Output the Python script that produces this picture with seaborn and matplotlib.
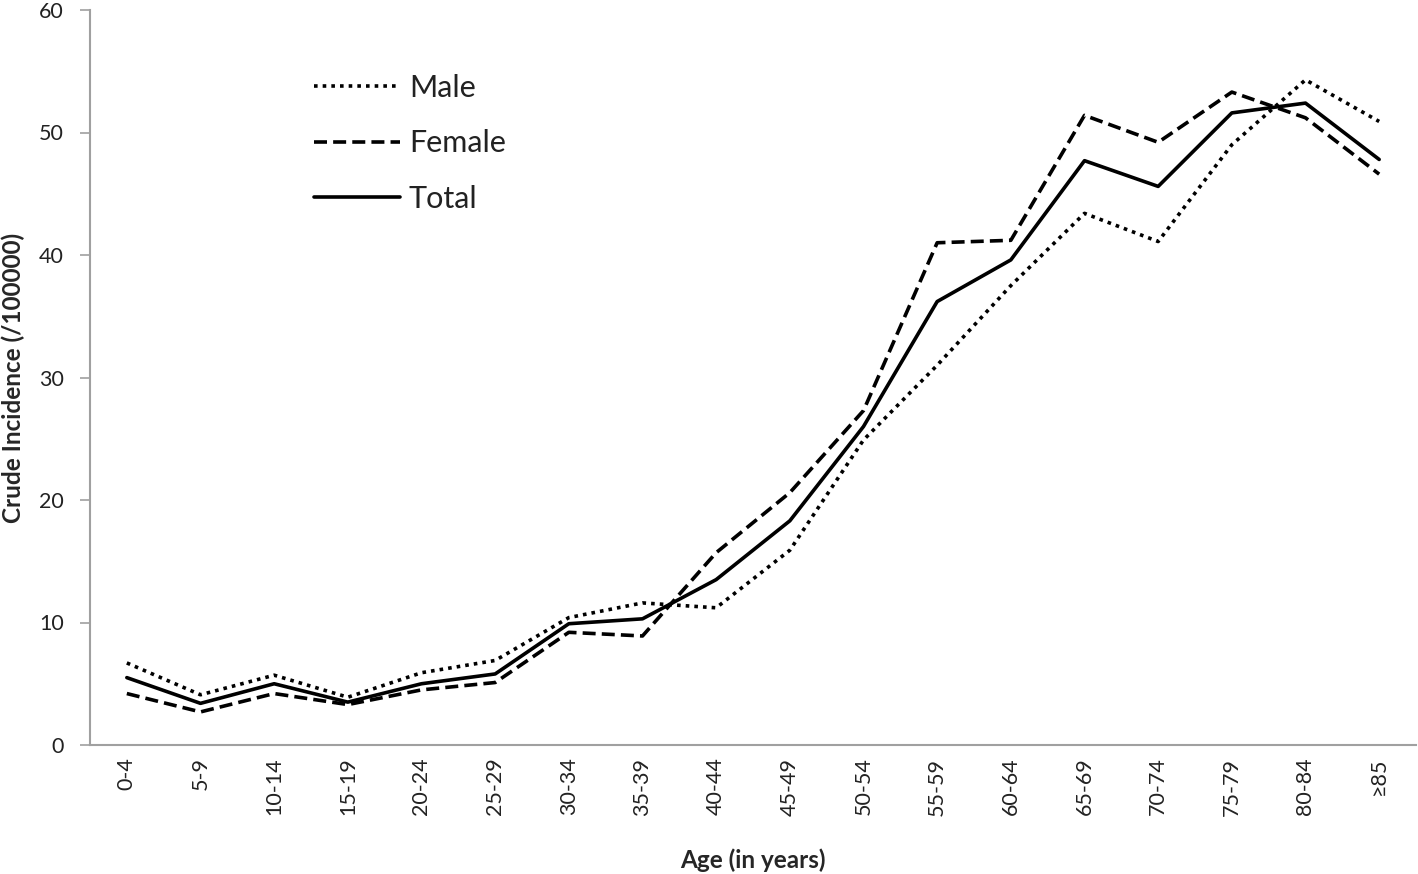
import matplotlib
matplotlib.use("Agg")
import matplotlib.pyplot as plt
import seaborn as sns
import numpy as np

# age groups and crude incidence (/100000)
age_groups = ["0-4", "5-9", "10-14", "15-19", "20-24", "25-29", "30-34", "35-39", "40-44",
              "45-49", "50-54", "55-59", "60-64", "65-69", "70-74", "75-79", "80-84", "≥85"]
male = [6.7, 4.1, 5.7, 3.9, 5.9, 6.9, 10.4, 11.6, 11.2, 15.9, 24.9, 31.0, 37.5, 43.4, 41.1, 49.0, 54.3, 50.9]
female = [4.2, 2.7, 4.2, 3.3, 4.5, 5.1, 9.2, 8.9, 15.7, 20.6, 27.3, 41.0, 41.2, 51.4, 49.2, 53.3, 51.2, 46.6]
total = [5.5, 3.4, 5.0, 3.5, 5.0, 5.8, 9.9, 10.3, 13.5, 18.3, 26.0, 36.2, 39.6, 47.7, 45.6, 51.6, 52.4, 47.8]
y_ticks = [0, 10, 20, 30, 40, 50, 60]

sns.set_style("white")
plt.rcParams['font.family'] = ['Lato', 'DejaVu Sans']

fig = plt.figure(figsize=(14.18, 8.74), dpi=100)
ax = fig.add_axes([90 / 1418, 129 / 874, 1326 / 1418, 735 / 874])

lw = 2.6
sns.lineplot(x=age_groups, y=male, ax=ax, color="black", lw=lw, linestyle=(0, (1, 1.4)), label="Male", sort=False)
sns.lineplot(x=age_groups, y=female, ax=ax, color="black", lw=lw, linestyle=(0, (3.6, 1.7)), label="Female", sort=False)
sns.lineplot(x=age_groups, y=total, ax=ax, color="black", lw=lw, linestyle="-", label="Total", sort=False)

ax.set_xlim(-0.5, len(age_groups) - 0.5)
ax.set_ylim(0, 60)
ax.set_yticks(y_ticks)

for s in ["top", "right"]:
    ax.spines[s].set_visible(False)
for s in ["left", "bottom"]:
    ax.spines[s].set_color("#A0A0A0")
    ax.spines[s].set_linewidth(1.5)

ax.tick_params(axis="y", length=7, width=1.2, color="#A0A0A0", pad=12, labelsize=15.5, labelcolor="#222222", left=True)
ax.tick_params(axis="x", length=0, pad=9, labelsize=15.5, labelcolor="#222222", labelrotation=90)

ax.set_xlabel("Age (in years)", fontsize=17.5, fontweight="bold", labelpad=24)
ax.set_ylabel("Crude Incidence (/100000)", fontsize=17.5, fontweight="bold")
ax.yaxis.set_label_coords(-0.049, 0.5)

leg = ax.legend(loc="upper left", bbox_to_anchor=(0.169, 0.913), frameon=False, fontsize=22,
                handlelength=2.8, handletextpad=0.3, labelspacing=0.9, borderaxespad=0, borderpad=0)
for t in leg.get_texts():
    t.set_color("#222222")

fig.savefig("out.png", dpi=100)
